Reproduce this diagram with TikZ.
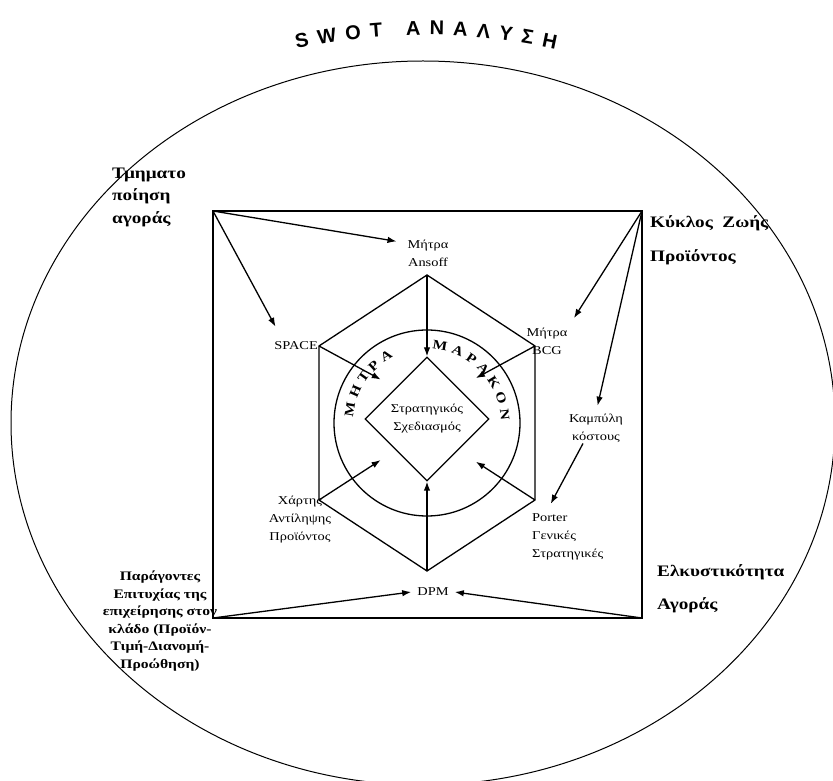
\documentclass[tikz,border=0pt]{standalone}
\usepackage{fontspec}
\setmainfont{Liberation Serif}[FakeStretch=1.2]
\setsansfont{Liberation Sans}
\usetikzlibrary{arrows.meta,shapes.geometric,decorations.text}

\begin{document}
\begin{tikzpicture}[x=1pt,y=1pt,
    thickline/.style={line width=1.3pt},
    arr/.style={line width=1.3pt,-{Latex[length=9pt,width=6.5pt]}},
    lbl/.style={font=\fontsize{12}{18}\selectfont,align=center,inner sep=1pt},
    big/.style={font=\bfseries\fontsize{16}{22.5}\selectfont,align=left,inner sep=0pt,anchor=west}]
    \useasboundingbox (0,0) rectangle (833,780);
    \clip (0,0) rectangle (833,780);
    \draw[line width=1pt] (423,357) ellipse [x radius=412, y radius=362];
    \path[decorate,decoration={text along path,text align=fit to path,
        text={|\sffamily\bfseries\fontsize{20}{20}\selectfont|SWOT ΑΝΑΛΥΣΗ}}]
        (425,138) ++(102.2:607) arc[start angle=102.2,end angle=77.6,radius=607];

    \coordinate (sq-tl) at (213,569);
    \coordinate (sq-tr) at (642,569);
    \coordinate (sq-bl) at (213,162);
    \coordinate (sq-br) at (642,162);
    \draw[thickline] (sq-tl) -- (sq-tr) -- (sq-br) -- (sq-bl) -- cycle;

    \coordinate (hx-top) at (427,505);
    \coordinate (hx-ur) at (535,434);
    \coordinate (hx-lr) at (535,280);
    \coordinate (hx-bot) at (427,209);
    \coordinate (hx-ll) at (319,280);
    \coordinate (hx-ul) at (319,434);
    \draw[thickline] (hx-top) -- (hx-ur) -- (hx-lr) -- (hx-bot) -- (hx-ll) -- (hx-ul) -- cycle;

    \node[draw,thickline,circle,minimum size=186pt,inner sep=0pt] (marakon) at (427,357) {};
    \node[draw,thickline,diamond,aspect=1,minimum size=124pt,inner sep=0pt,
        font=\fontsize{12}{18}\selectfont,align=center] (strat) at (427,361) {Στρατηγικός\\Σχεδιασμός};
    \path[decorate,decoration={text along path,text align=fit to path,
        text={|\bfseries\fontsize{13}{13}\selectfont|ΜΗΤΡΑ}}]
        (marakon.center) ++(176:74) arc[start angle=176,end angle=117,radius=74];
    \path[decorate,decoration={text along path,text align=fit to path,
        text={|\bfseries\fontsize{13}{13}\selectfont|ΜΑΡΑΚΟΝ}}]
        (marakon.center) ++(86:74) arc[start angle=86,end angle=2,radius=74];

    \node[big] (tmima) at (112,583) {Τμηματο\\ποίηση\\αγοράς};
    \node[big,font=\bfseries\fontsize{16}{34}\selectfont] (kyklos) at (650,540) {Κύκλος~ Ζωής\\Προϊόντος};
    \node[big,font=\bfseries\fontsize{16}{33}\selectfont] (elkys) at (657,191.5) {Ελκυστικότητα\\Αγοράς};
    \node[font=\bfseries\fontsize{13}{17.5}\selectfont,align=center,inner sep=0pt] (parag) at (160,159)
        {Παράγοντες\\Επιτυχίας της\\επιχείρησης στον\\κλάδο (Προϊόν-\\Τιμή-Διανομή-\\Προώθηση)};

    \node[lbl] (ansoff) at (428,527) {Μήτρα\\Ansoff};
    \node[lbl,anchor=east] (space) at (hx-ul) {SPACE};
    \node[lbl] (bcg) at (547,439) {Μήτρα\\BCG};
    \node[lbl] (kamp) at (596,352) {Καμπύλη\\κόστους};
    \node[lbl] (xartis) at (300,260) {Χάρτης\\Αντίληψης\\Προϊόντος};
    \node[lbl,align=left,anchor=west] (porter) at (531,243) {Porter\\Γενικές\\Στρατηγικές};
    \node[lbl,inner xsep=6pt] (dpm) at (433,188) {DPM};

    \draw[arr,shorten >=10pt] (sq-tl) -- ([yshift=10pt]ansoff.west);
    \draw[arr,shorten >=16pt] (sq-tl) -- ([xshift=10pt]space.north west);
    \draw[arr,shorten >=10pt] (sq-tr) -- (bcg.north east);
    \draw[arr,shorten >=7pt] (sq-tr) -- (kamp.north);
    \draw[arr,shorten >=10pt] (kamp.230) -- ([xshift=15pt]porter.north west);
    \draw[arr] (sq-bl) -- (dpm.west);
    \draw[arr] (sq-br) -- (dpm.east);

    \draw[arr] (hx-top) -- (strat.north);
    \draw[arr] (hx-bot) -- (strat.south);
    \draw[arr,shorten >=17pt] (hx-ul) -- (strat.north west);
    \draw[arr,shorten >=20pt] (hx-ur) -- (strat.north east);
    \draw[arr,shorten >=18pt] (hx-ll) -- (strat.south west);
    \draw[arr,shorten >=21pt] (hx-lr) -- (strat.south east);
\end{tikzpicture}
\end{document}
